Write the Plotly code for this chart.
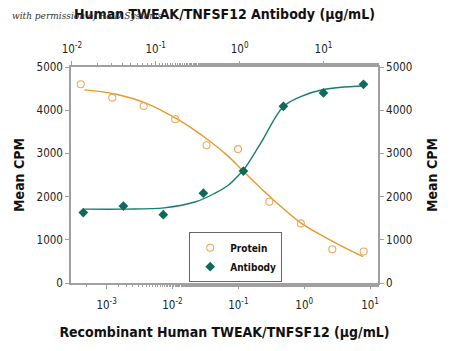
import plotly.graph_objects as go

# Protein (bottom axis, ug/mL)
protein_x = [0.000406, 0.00122, 0.00366, 0.011, 0.0329, 0.0988, 0.296, 0.889, 2.67, 8.0]
protein_y = [4600, 4290, 4100, 3790, 3190, 3100, 1880, 1380, 780, 730]
# Antibody (top axis, ug/mL)
antibody_x = [0.0137, 0.0412, 0.123, 0.370, 1.11, 3.33, 10.0, 30.0]
antibody_y = [1630, 1780, 1580, 2080, 2590, 4090, 4400, 4600]

# fitted curves
protein_fit_x = [0.00046, 0.0014, 0.0040, 0.0126, 0.035, 0.072, 0.12, 0.30, 0.91, 2.75, 7.8]
protein_fit_y = [4470, 4370, 4160, 3770, 3310, 2920, 2580, 2000, 1380, 960, 610]
antibody_fit_x = [0.0141, 0.0427, 0.126, 0.30, 0.51, 0.74, 0.98, 1.12, 1.78, 3.31, 5.25, 10.0, 29.5]
antibody_fit_y = [1710, 1710, 1740, 1880, 2080, 2270, 2500, 2620, 3230, 4080, 4310, 4480, 4560]

bottom_ticks = [0.001, 0.01, 0.1, 1, 10]
bottom_text = ["10<sup>-3</sup>", "10<sup>-2</sup>", "10<sup>-1</sup>", "10<sup>0</sup>", "10<sup>1</sup>"]
top_ticks = [0.01, 0.1, 1, 10]
top_text = ["10<sup>-2</sup>", "10<sup>-1</sup>", "10<sup>0</sup>", "10<sup>1</sup>"]
y_ticks = [0, 1000, 2000, 3000, 4000, 5000]

orange_line = "#E49A2C"
orange_mark = "#EEAA5A"
teal_line = "#1C7C70"
teal_mark = "#0E6A5C"
axis_col = "#A0A0A0"
font_fam = "DejaVu Sans Condensed, Roboto, Liberation Sans, sans-serif"

fig = go.Figure()
fig.add_trace(go.Scatter(x=protein_fit_x, y=protein_fit_y, mode="lines",
                         line=dict(color=orange_line, width=1.4, shape="spline"),
                         showlegend=False, hoverinfo="skip"))
fig.add_trace(go.Scatter(x=antibody_fit_x, y=antibody_fit_y, mode="lines", xaxis="x2",
                         line=dict(color=teal_line, width=1.4, shape="spline"),
                         showlegend=False, hoverinfo="skip"))
fig.add_trace(go.Scatter(x=protein_x, y=protein_y, mode="markers", name="<b>Protein</b>",
                         marker=dict(symbol="circle-open", size=7, color=orange_mark,
                                     line=dict(width=1.1, color=orange_mark))))
fig.add_trace(go.Scatter(x=antibody_x, y=antibody_y, mode="markers", name="<b>Antibody</b>", xaxis="x2",
                         marker=dict(symbol="diamond", size=7.5, color=teal_mark)))
fig.add_trace(go.Scatter(x=[0.01], y=[0], yaxis="y2", mode="markers",
                         marker=dict(opacity=0), showlegend=False, hoverinfo="skip"))

axis_common = dict(showline=True, linecolor=axis_col, linewidth=1.5, ticks="outside",
                   tickcolor=axis_col, ticklen=4, showgrid=False, zeroline=False,
                   tickfont=dict(family=font_fam, size=11.5, color="#222"))

fig.update_layout(
    width=450, height=351,
    margin=dict(l=71, r=70, t=67, b=68),
    paper_bgcolor="white", plot_bgcolor="white",
    font=dict(family=font_fam, color="#111"),
    xaxis=dict(type="log", range=[-3.54, 1.12], tickvals=bottom_ticks, ticktext=bottom_text,
               minor=dict(ticks="outside", ticklen=2.5, tickcolor=axis_col, showgrid=False),
               ticklabelstandoff=6,
               title=dict(text="<b>Recombinant Human TWEAK/TNFSF12 (μg/mL)</b>",
                          font=dict(family=font_fam, size=14), standoff=17),
               **axis_common),
    xaxis2=dict(type="log", range=[-2.01, 1.65], overlaying="x", side="top",
                tickvals=top_ticks, ticktext=top_text,
                minor=dict(ticks="outside", ticklen=2.5, tickcolor=axis_col, showgrid=False),
                ticklabelstandoff=4,
                title=dict(text="<b>Human TWEAK/TNFSF12 Antibody (μg/mL)</b>",
                           font=dict(family=font_fam, size=14), standoff=18),
                **axis_common),
    yaxis=dict(range=[0, 5000], tickvals=y_ticks,
               title=dict(text="<b>Mean CPM</b>", font=dict(family=font_fam, size=14), standoff=9),
               **axis_common),
    yaxis2=dict(range=[0, 5000], tickvals=y_ticks, overlaying="y", side="right",
                title=dict(text="<b>Mean CPM</b>", font=dict(family=font_fam, size=14), standoff=16),
                **axis_common),
    legend=dict(x=0.385, y=0.235, xanchor="left", yanchor="top",
                bgcolor="white", bordercolor="#666", borderwidth=1,
                font=dict(family=font_fam, size=10, color="#111"),
                itemwidth=30, tracegroupgap=0),
    showlegend=True,
)
fig.add_annotation(text="<i>with permission of R&D Systems</i>", xref="paper", yref="paper",
                   x=-0.2, y=1.236, xanchor="left", yanchor="middle", showarrow=False,
                   font=dict(family="DejaVu Serif", size=9, color="#333"))
fig.write_html("out.html")
